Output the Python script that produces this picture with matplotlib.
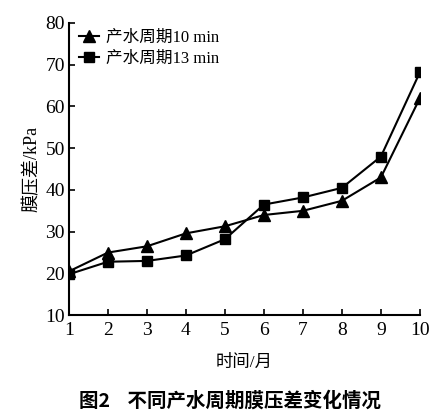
import numpy as np
import matplotlib
matplotlib.use('Agg')
import matplotlib.pyplot as plt

plt.rcParams['font.family'] = ['Liberation Serif', 'Noto Sans CJK SC', 'DejaVu Sans']

# datos
meses = [1, 2, 3, 4, 5, 6, 7, 8, 9, 10]
ciclo_10 = [20.5, 25.0, 26.5, 29.6, 31.3, 34.0, 35.0, 37.4, 43.0, 62.0]
ciclo_13 = [19.8, 22.8, 23.0, 24.3, 28.2, 36.5, 38.2, 40.5, 48.0, 68.2]
etiquetas = ['产水周期10 min', '产水周期13 min']
yticks = [10, 20, 30, 40, 50, 60, 70, 80]

fig = plt.figure(figsize=(4.42, 4.18), dpi=100)
ax = fig.add_axes([0.156, 0.246, 0.794, 0.699])

ax.plot(meses, ciclo_10, color='black', lw=1.5, marker='^', ms=8, label=etiquetas[0])
ax.plot(meses, ciclo_13, color='black', lw=1.5, marker='s', ms=7, label=etiquetas[1])

ax.set_xlim(1, 10)
ax.set_ylim(10, 80)
ax.set_xticks(meses)
ax.set_yticks(yticks)
ax.spines['top'].set_visible(False)
ax.spines['right'].set_visible(False)
ax.spines['left'].set_linewidth(1.5)
ax.spines['bottom'].set_linewidth(1.5)
ax.tick_params(direction='in', length=4, width=1.2, labelsize=14)
ax.tick_params(axis='x', pad=5)
ax.tick_params(axis='y', pad=3)

ax.set_xlabel('时间/月', fontsize=12.5, labelpad=11)
ax.set_ylabel('膜压差/kPa', fontsize=13, labelpad=3)

leg = ax.legend(loc='upper left', frameon=False, fontsize=12, handlelength=1.2,
                handletextpad=0.4, labelspacing=0.3, borderaxespad=0.0,
                bbox_to_anchor=(0.01, 1.0))

fig.text(0.52, 0.042, '图2    不同产水周期膜压差变化情况', ha='center', va='center',
         fontsize=14, fontweight='bold', family=['Noto Sans CJK SC', 'DejaVu Sans'])

plt.savefig('out.png', dpi=100)
plt.close()
